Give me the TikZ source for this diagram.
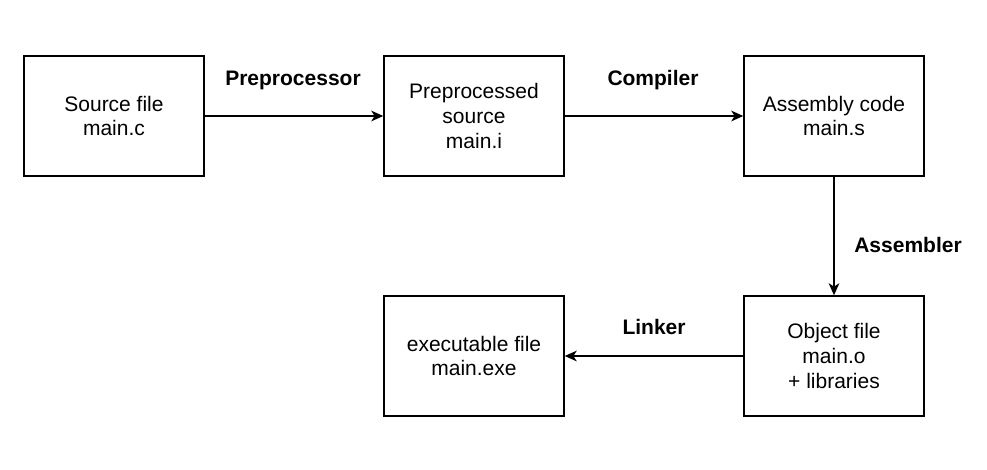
\documentclass[tikz,border=0pt]{standalone}
\usepackage{fontspec}
\setmainfont{Liberation Sans}
\usetikzlibrary{arrows.meta}
\begin{document}
\begin{tikzpicture}[x=0.75pt,y=-0.75pt,
  box/.style={draw,line width=1.1pt,minimum width=180*0.75pt,minimum height=120*0.75pt,align=center,font=\fontsize{15.75}{18.5}\selectfont,inner sep=0pt},
  lbl/.style={font=\fontsize{15.75}{18.5}\selectfont\bfseries},
  conn/.style={line width=1.1pt,-{Stealth[length=9pt,width=8pt,inset=2.5pt]}}]
\useasboundingbox (0,0) rectangle (987,469);
\node[box] (src) at (114,116) {Source file\\main.c};
\node[box] (pre) at (474,116) {Preprocessed\\source\\main.i};
\node[box] (asm) at (834,116) {Assembly code\\main.s};
\node[box] (obj) at (834,356) {Object file\\main.o\\+ libraries};
\node[box] (exe) at (474,356) {executable file\\main.exe};
\draw[conn] (src) -- (pre);
\draw[conn] (pre) -- (asm);
\draw[conn] (asm) -- (obj);
\draw[conn] (obj) -- (exe);
\node[lbl] (l1) at (293,80) {Preprocessor};
\node[lbl] (l2) at (653,80) {Compiler};
\node[lbl] (l3) at (908,245) {Assembler};
\node[lbl] (l4) at (654,327) {Linker};
\end{tikzpicture}
\end{document}
